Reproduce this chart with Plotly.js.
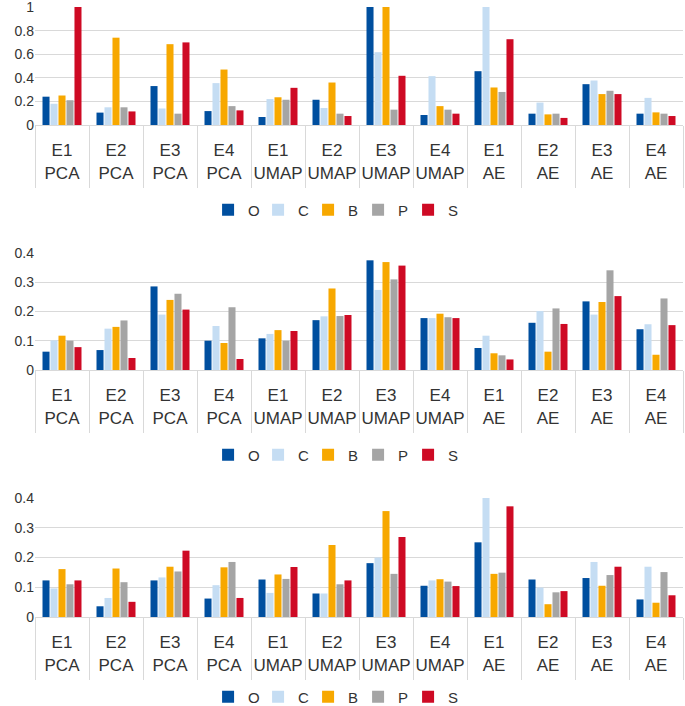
<!DOCTYPE html>
<html><head><meta charset="utf-8">
<script src="https://cdn.plot.ly/plotly-3.0.1.min.js"></script>
<style>html,body{margin:0;padding:0;background:#fff}</style>
</head><body><div id="chart" style="width:685px;height:706px"></div>
<script>
const embeddings = ['E1','E2','E3','E4','E1','E2','E3','E4','E1','E2','E3','E4'];
const methods = ['PCA','PCA','PCA','PCA','UMAP','UMAP','UMAP','UMAP','AE','AE','AE','AE'];
const seriesNames = ['O','C','B','P','S'];
const seriesColors = ['#004F9F','#C5DDF3','#F7A800','#A5A5A5','#CE0A24'];
const ticks1 = [0,0.2,0.4,0.6,0.8,1];
const tickText1 = ['0','0.2','0.4','0.6','0.8','1'];
const ticks23 = [0,0.1,0.2,0.3,0.4];
const tickText23 = ['0','0.1','0.2','0.3','0.4'];

// Panel 1
const p1_O = [0.24,0.105,0.33,0.118,0.068,0.214,1.0,0.085,0.456,0.096,0.346,0.096];
const p1_C = [0.18,0.15,0.14,0.355,0.22,0.144,0.617,0.414,1.0,0.19,0.377,0.23];
const p1_B = [0.25,0.74,0.685,0.47,0.235,0.36,1.0,0.16,0.318,0.09,0.262,0.107];
const p1_P = [0.21,0.15,0.096,0.16,0.214,0.096,0.13,0.13,0.28,0.096,0.29,0.096];
const p1_S = [1.0,0.115,0.70,0.124,0.315,0.076,0.417,0.096,0.727,0.06,0.262,0.076];
// Panel 2
const p2_O = [0.0625,0.068,0.285,0.1,0.108,0.17,0.374,0.177,0.075,0.161,0.234,0.139];
const p2_C = [0.101,0.141,0.189,0.15,0.123,0.183,0.273,0.177,0.117,0.201,0.189,0.156];
const p2_B = [0.117,0.147,0.239,0.092,0.136,0.278,0.368,0.192,0.057,0.0625,0.232,0.052];
const p2_P = [0.1,0.169,0.26,0.214,0.1,0.184,0.309,0.18,0.05,0.21,0.34,0.244];
const p2_S = [0.078,0.041,0.206,0.0375,0.133,0.1875,0.356,0.177,0.036,0.157,0.252,0.153];
// Panel 3
const p3_O = [0.123,0.036,0.123,0.062,0.126,0.079,0.181,0.105,0.251,0.126,0.131,0.059];
const p3_C = [0.096,0.064,0.133,0.107,0.081,0.079,0.2,0.123,0.4,0.099,0.185,0.169];
const p3_B = [0.161,0.163,0.169,0.167,0.143,0.242,0.356,0.127,0.145,0.043,0.105,0.048];
const p3_P = [0.11,0.117,0.153,0.185,0.128,0.11,0.145,0.119,0.149,0.083,0.141,0.151];
const p3_S = [0.123,0.051,0.223,0.064,0.168,0.123,0.269,0.104,0.372,0.087,0.169,0.073];

const panels = [
  {vals:[p1_O,p1_C,p1_B,p1_P,p1_S], range:[0,1], tv:ticks1, tt:tickText1, xa:'x', ya:'y', legend:'legend'},
  {vals:[p2_O,p2_C,p2_B,p2_P,p2_S], range:[0,0.4], tv:ticks23, tt:tickText23, xa:'x2', ya:'y2', legend:'legend2'},
  {vals:[p3_O,p3_C,p3_B,p3_P,p3_S], range:[0,0.4], tv:ticks23, tt:tickText23, xa:'x3', ya:'y3', legend:'legend3'}
];

const cats = methods.map((m,i)=> m + ' ' + embeddings[i]);
const tickText = methods.map((m,i)=> embeddings[i] + '<br>' + m);

const traces = [];
panels.forEach(p => {
  p.vals.forEach((v,k) => {
    traces.push({
      type:'bar', x:cats, y:v, name:seriesNames[k],
      marker:{color:seriesColors[k]},
      xaxis:p.xa, yaxis:p.ya, legend:p.legend,
      hoverinfo:'skip'
    });
  });
});

const H = 706;
const font = {family:'Arial, "Liberation Sans", sans-serif', size:14, color:'#404040'};
function xax(anchor){
  return {anchor:anchor, type:'category', tickvals:cats, ticktext:tickText, tickangle:0,
    tickson:'boundaries', ticks:'outside', ticklen:62, tickcolor:'#d9d9d9', tickwidth:1,
    ticklabelstandoff:10, automargin:false, ticklabeloverflow:'allow',
    showline:true, linecolor:'#d9d9d9', linewidth:1, showgrid:false,
    tickfont:{family:font.family, size:17, color:'#333'}, fixedrange:true};
}
function yax(anchor, dom, p){
  return {anchor:anchor, domain:dom, range:p.range, tickmode:'array', tickvals:p.tv, ticktext:p.tt,
    showgrid:true, automargin:false, ticklabeloverflow:'allow',
    gridcolor:'#d9d9d9', gridwidth:1, zeroline:false, showline:false,
    tickfont:{family:font.family, size:14, color:'#333'}, ticks:'', fixedrange:true};
}
function dom(pxBottom, pxTop){ return [(H-pxBottom)/H, (H-pxTop)/H]; }
function leg(py){
  return {orientation:'h', x:0.46, xanchor:'center', yref:'container', y:1-py/H, yanchor:'middle',
    font:{family:font.family, size:15, color:'#333'}, itemwidth:30, entrywidth:5, entrywidthmode:'pixels',
    bgcolor:'rgba(0,0,0,0)'};
}

const layout = {
  width:685, height:706,
  margin:{l:35, r:2, t:0, b:0, autoexpand:false},
  paper_bgcolor:'#fff', plot_bgcolor:'#fff',
  font:font,
  barmode:'group', bargap:0.26, bargroupgap:0.12,
  showlegend:true,
  xaxis:xax('y'), xaxis2:xax('y2'), xaxis3:xax('y3'),
  yaxis:yax('x', dom(125,7), panels[0]),
  yaxis2:yax('x2', dom(370,252.7), panels[1]),
  yaxis3:yax('x3', dom(617,498), panels[2]),
  legend:leg(210), legend2:leg(455), legend3:leg(697)
};

Plotly.newPlot('chart', traces, layout, {staticPlot:true, displayModeBar:false});
</script></body></html>
